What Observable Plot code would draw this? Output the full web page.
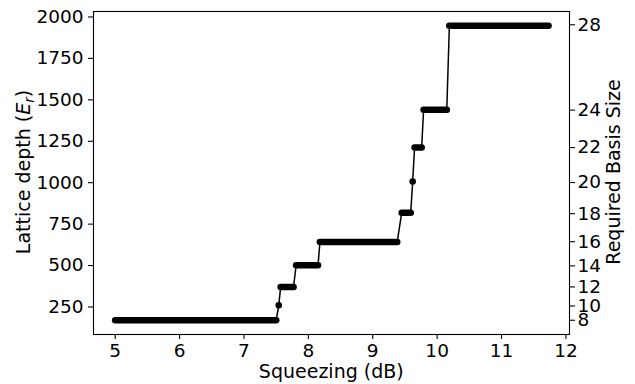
<!DOCTYPE html>
<html><head><meta charset="utf-8">
<script src="https://cdn.jsdelivr.net/npm/d3@7"></script>
<script src="https://cdn.jsdelivr.net/npm/@observablehq/plot@0.6"></script>
<style>body{margin:0;background:#fff} svg{font-family:"DejaVu Sans",sans-serif}</style>
</head><body><div id="chart"></div>
<script>
// Squeezing (dB) ranges for each plateau and its lattice depth (E_r)
const stepStart = [5.00, 7.54, 7.57, 7.81, 8.18, 9.45, 9.62, 9.65, 9.79, 10.19];
const stepEnd   = [7.50, 7.54, 7.77, 8.15, 9.38, 9.59, 9.62, 9.76, 10.15, 11.73];
const stepDepth = [170, 260, 371, 502, 642, 819, 1007, 1212, 1440, 1947];

const xTicks = [5, 6, 7, 8, 9, 10, 11, 12];
const depthTicks = [250, 500, 750, 1000, 1250, 1500, 1750, 2000];
const basisSizes  = [8, 10, 12, 14, 16, 18, 20, 22, 24, 28];
const basisDepths = [170, 256, 371, 498, 644, 813, 1001, 1212, 1438, 1953];

const steps = stepStart.map((s, i) => ({x1: s, x2: stepEnd[i], y: stepDepth[i]}));
const path = steps.flatMap(d => d.x2 > d.x1 ? [{x: d.x1, y: d.y}, {x: d.x2, y: d.y}] : [{x: d.x1, y: d.y}]);
const wide = steps.filter(d => d.x2 > d.x1);
const single = steps.filter(d => d.x2 === d.x1);

const chart = Plot.plot({
  width: 635, height: 384,
  marginLeft: 93, marginRight: 66, marginTop: 11, marginBottom: 50,
  style: {fontFamily: '"DejaVu Sans", sans-serif', fontSize: "18.5px", color: "#000", background: "#fff"},
  x: {domain: [4.663, 12.056]},
  y: {domain: [84, 2033]},
  marks: [
    Plot.line(path, {x: "x", y: "y", stroke: "#000", strokeWidth: 1.5}),
    Plot.link(wide, {x1: "x1", x2: "x2", y1: "y", y2: "y", stroke: "#000", strokeWidth: 6.6, strokeLinecap: "round"}),
    Plot.dot(single, {x: "x1", y: "y", r: 3.3, fill: "#000"}),
    Plot.frame({stroke: "#000", strokeWidth: 1.1}),
    Plot.axisX(xTicks, {tickSize: 5, tickPadding: 4, label: null, strokeWidth: 1.1, tickFormat: d => String(d)}),
    Plot.axisY(depthTicks, {anchor: "left", tickSize: 5, tickPadding: 5, label: null, strokeWidth: 1.1, tickFormat: d => String(d)}),
    Plot.axisY(basisDepths, {anchor: "right", tickSize: 5, tickPadding: 3, label: null, strokeWidth: 1.1,
      tickFormat: d => String(basisSizes[basisDepths.indexOf(d)])})
  ]
});
document.getElementById("chart").appendChild(chart);

const svg = d3.select(chart);
svg.append("text").attr("x", 331.3).attr("y", 378).attr("text-anchor", "middle")
  .style("font-size", "19px").attr("fill", "#000").text("Squeezing (dB)");
const yl = svg.append("text").attr("transform", "translate(30,172) rotate(-90)").attr("text-anchor", "middle")
  .style("font-size", "19px").attr("fill", "#000");
yl.append("tspan").text("Lattice depth (");
yl.append("tspan").style("font-style", "italic").text("E");
yl.append("tspan").style("font-style", "italic").style("font-size", "13.5px").attr("dy", "4").text("r");
yl.append("tspan").attr("dy", "-4").text(")");
svg.append("text").attr("transform", "translate(620,172) rotate(-90)").attr("text-anchor", "middle")
  .style("font-size", "19px").attr("fill", "#000").text("Required Basis Size");
</script>
</body></html>
